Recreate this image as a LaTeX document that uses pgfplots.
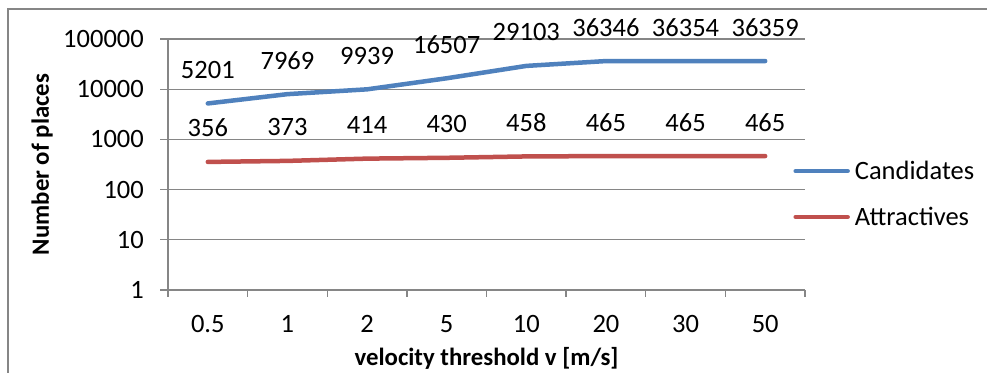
\documentclass[border=0pt]{standalone}
\usepackage{pgfplots}
\pgfplotsset{compat=1.18}
\usepackage{fontspec}
\setmainfont{Carlito}
\definecolor{cblue}{RGB}{79,129,189}
\definecolor{cred}{RGB}{192,80,77}
\definecolor{gridc}{RGB}{134,134,134}
\newcommand{\fnt}{\fontsize{26.5bp}{30bp}\selectfont}
\newcommand{\bfnt}{\fontsize{24.8bp}{28bp}\selectfont\bfseries}
\begin{document}
\begin{tikzpicture}[x=1bp,y=1bp]
\useasboundingbox (0,0) rectangle (987,372);
\fill[white] (0,0) rectangle (987,372);
\draw[gridc, line width=1.3bp] (8,-5) -- (8,363) -- (995,363);
\begin{axis}[
  at={(168bp,82bp)}, anchor=south west,
  scale only axis, width=637bp, height=251bp,
  ymode=log, ymin=1, ymax=100000,
  xmin=0, xmax=8,
  axis lines*=left,
  axis line style={gridc, line width=1.3bp},
  ymajorgrids, grid style={gridc, line width=1.3bp},
  yminorticks=false,
  tick align=outside,
  ytick={1,10,100,1000,10000,100000},
  yticklabels={1,10,100,1000,10000,100000},
  ytick style={gridc, line width=1.3bp},
  major tick length=8bp,
  xtick={0.5,1.5,...,7.5},
  xticklabels={0.5,1,2,5,10,20,30,50},
  major x tick style={draw=none},
  minor xtick={0,1,...,8},
  minor x tick style={gridc, line width=1.3bp},
  minor tick length=7bp,
  /pgf/number format/assume math mode=true,
  ticklabel style={font=\fnt},
  yticklabel style={anchor=east, inner sep=0pt, xshift=-16bp},
  xticklabel style={anchor=base, inner sep=0pt, yshift=-35bp},
  ylabel={Number of places},
  xlabel={velocity threshold v [m/s]},
  ylabel style={font=\bfnt, at={(axis description cs:-0.1978,0.5)}, anchor=center, rotate=0},
  xlabel style={font=\bfnt, at={(axis description cs:0.5,-0.2988)}, anchor=base},
  point meta=explicit symbolic,
  nodes near coords,
  every node near coord/.append style={font=\fnt, text=black, anchor=base, inner sep=0pt, yshift=25bp},
  legend image code/.code={\draw[#1] (0bp,0bp) -- (52bp,0bp);},
  legend style={at={(rel axis cs:0.9815,0.3825)}, anchor=west, draw=none, fill=none, inner sep=0pt,
    font=\fnt, row sep=26bp, column sep=5bp, nodes={inner sep=0pt}},
  legend cell align=left,
  clip=false,
]
\addplot[cblue, line width=4.5bp, line cap=round, line join=round] coordinates {
 (0.5,5201) [5201] (1.5,7969) [7969] (2.5,9939) [9939] (3.5,16507) [16507]
 (4.5,29103) [29103] (5.5,36346) [36346] (6.5,36354) [36354] (7.5,36359) [36359]
};
\addlegendentry{Candidates}
\addplot[cred, line width=4.5bp, line cap=round, line join=round] coordinates {
 (0.5,356) [356] (1.5,373) [373] (2.5,414) [414] (3.5,430) [430]
 (4.5,458) [458] (5.5,465) [465] (6.5,465) [465] (7.5,465) [465]
};
\addlegendentry{Attractives}
\end{axis}
\end{tikzpicture}
\end{document}
